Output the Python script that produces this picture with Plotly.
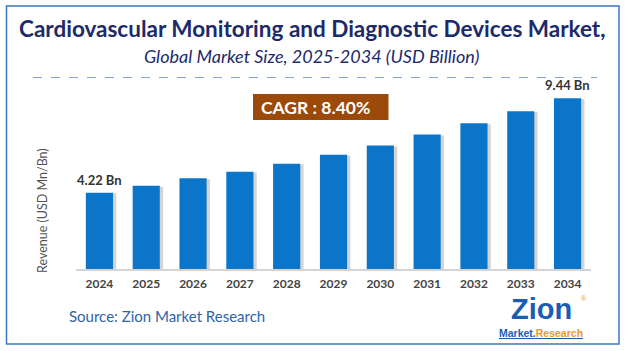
import plotly.graph_objects as go

years = ["2024", "2025", "2026", "2027", "2028", "2029", "2030", "2031", "2032", "2033", "2034"]
revenue = [4.22, 4.60, 5.01, 5.38, 5.82, 6.32, 6.82, 7.43, 8.05, 8.72, 9.44]
cagr_text = "CAGR : 8.40%"
title_text = "Cardiovascular Monitoring and Diagnostic Devices Market,"
subtitle_text = "Global Market Size, 2025-2034 (USD Billion)"
yaxis_title = "Revenue (USD Mn/Bn)"
source_text = "Source: Zion Market Research"

W, H = 626, 351
L, R, T, B = 76, 35, 79, 82
PW = W - L - R
PH = H - T - B

def px(x):
    return (x - L) / PW

def py(y):
    return (H - B - y) / PH

FONT = "Lato"

fig = go.Figure()
# soft shadow
fig.add_trace(go.Bar(x=years, y=[v - 0.05 for v in revenue], width=0.58, offset=-0.29 + 0.07,
                     marker=dict(color="rgba(60,60,60,0.22)", line=dict(width=0)),
                     hoverinfo="skip", showlegend=False))
fig.add_trace(go.Bar(x=years, y=revenue, width=0.58, offset=-0.29,
                     marker=dict(color="#0b76c9", line=dict(width=0)),
                     showlegend=False))

fig.update_layout(
    width=W, height=H,
    margin=dict(l=L, r=R, t=T, b=B),
    paper_bgcolor="white", plot_bgcolor="white",
    barmode="overlay",
    xaxis=dict(type="category", range=[-0.5, 10.5], showgrid=False, zeroline=False,
               showline=True, linecolor="#d4d4d4", linewidth=1.5, ticks="",
               tickfont=dict(family=FONT, size=12, color="#444444", weight="bold"),
               ticklabelstandoff=3),
    yaxis=dict(range=[0, 10.5], showgrid=False, zeroline=False, showticklabels=False,
               showline=False),
    font=dict(family=FONT),
)

annotations = []
# title/subtitle
annotations.append(dict(xref="paper", yref="paper", x=px(312), y=py(28), text="<b>" + title_text + "</b>",
                        showarrow=False, font=dict(family=FONT, size=22.5, color="#1c2a6b"),
                        xanchor="center", yanchor="middle"))
annotations.append(dict(xref="paper", yref="paper", x=px(311.5), y=py(56), text="<i>" + subtitle_text + "</i>",
                        showarrow=False, font=dict(family=FONT, size=18, color="#1c2a6b"),
                        xanchor="center", yanchor="middle"))
# y title
annotations.append(dict(xref="paper", yref="paper", x=px(42), y=py(211), text=yaxis_title, textangle=-90,
                        showarrow=False, font=dict(family=FONT, size=12.5, color="#555555"),
                        xanchor="center", yanchor="middle"))
# value labels (first and last)
for i in (0, len(years) - 1):
    annotations.append(dict(x=i, y=revenue[i], xref="x", yref="y",
                            text="<b>%.2f Bn</b>" % revenue[i], showarrow=False, yshift=13,
                            font=dict(family=FONT, size=13, color="#333333")))
# CAGR
annotations.append(dict(xref="paper", yref="paper", x=px(315), y=py(107), text="<b>" + cagr_text + "</b>",
                        showarrow=False, font=dict(family=FONT, size=17.5, color="white"),
                        xanchor="center", yanchor="middle"))
# Source
annotations.append(dict(xref="paper", yref="paper", x=px(67), y=py(316), text=source_text,
                        showarrow=False, font=dict(family=FONT, size=15, color="#2e64a6"),
                        xanchor="left", yanchor="middle"))
# logo text
annotations.append(dict(xref="paper", yref="paper", x=px(541), y=py(309), text="<b>Zion</b>",
                        showarrow=False, font=dict(family="Liberation Sans", size=29, color="#1a5db3"),
                        xanchor="center", yanchor="middle"))
annotations.append(dict(xref="paper", yref="paper", x=px(541), y=py(333),
                        text="<b><u>Market.<span style='color:#f0961c'>Research</span></u></b>",
                        showarrow=False, font=dict(family="Liberation Sans", size=10.5, color="#1a5db3"),
                        xanchor="center", yanchor="middle"))
annotations.append(dict(xref="paper", yref="paper", x=px(584), y=py(298), text="®",
                        showarrow=False, font=dict(family="Liberation Sans", size=7, color="#f0961c"),
                        xanchor="center", yanchor="middle"))
fig.update_layout(annotations=annotations)

shapes = []
# outer border
shapes.append(dict(type="rect", xref="paper", yref="paper", x0=px(6.5), x1=px(619), y0=py(6), y1=py(344),
                   line=dict(color="#3a78c2", width=1.5), fillcolor="rgba(0,0,0,0)", layer="below"))
# dashed separator
shapes.append(dict(type="line", xref="paper", yref="paper", x0=px(33), x1=px(597), y0=py(77.5), y1=py(77.5),
                   line=dict(color="#7fa3d6", width=1, dash="dash")))
# CAGR box
shapes.append(dict(type="rect", xref="paper", yref="paper", x0=px(253), x1=px(388.5), y0=py(94), y1=py(120),
                   line=dict(width=0), fillcolor="#9c4a0a", layer="below"))
fig.update_layout(shapes=shapes)

fig.write_html("out.html")
